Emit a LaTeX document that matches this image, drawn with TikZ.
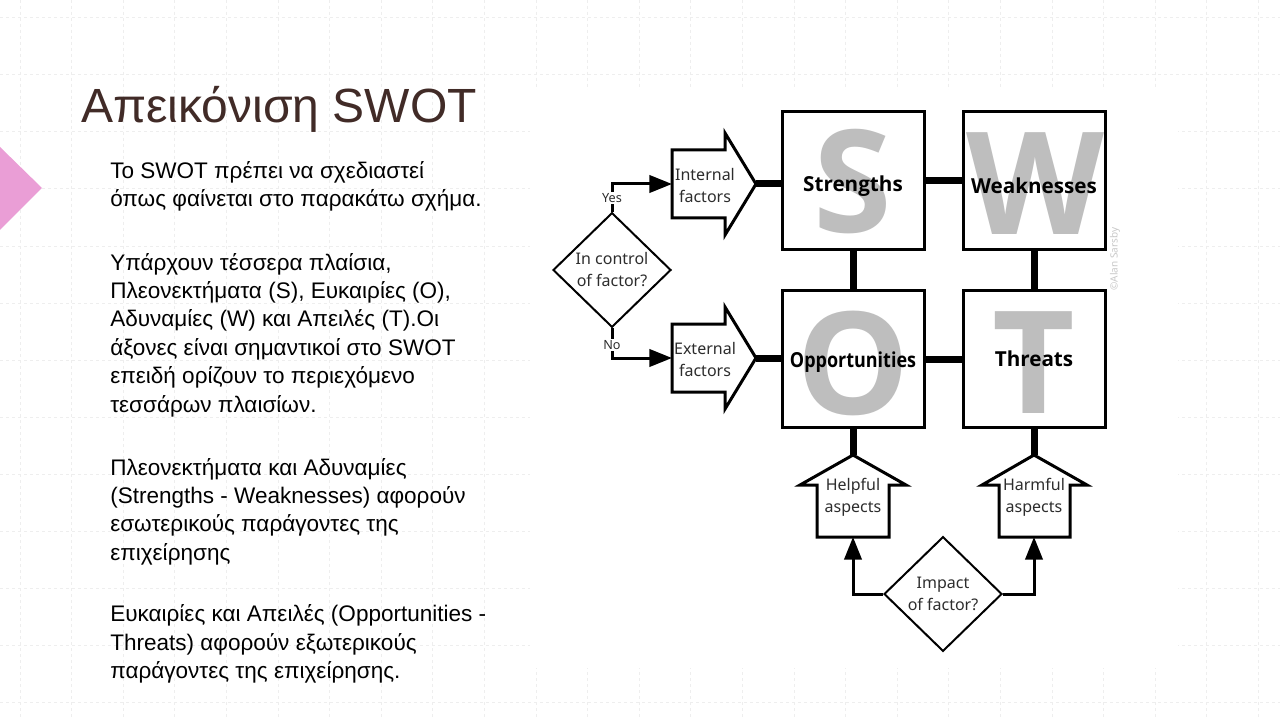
\documentclass[tikz,border=0pt]{standalone}
\usepackage{fontspec}
\setmainfont{Liberation Sans}
\newfontfamily\swotfont{Open Sans}
\newfontfamily\handfont{Noto Sans}
\usetikzlibrary{arrows.meta,shapes.geometric}
\definecolor{titlebrown}{HTML}{412B27}
\definecolor{pinkish}{RGB}{234,158,214}
\definecolor{gridgray}{RGB}{238,238,238}
\definecolor{lettergray}{RGB}{190,190,190}
\definecolor{handgray}{RGB}{45,45,45}
\definecolor{signgray}{RGB}{200,200,200}
\begin{document}
\begin{tikzpicture}[x=0.75pt,y=-0.75pt,
  gridline/.style={draw=gridgray, line width=0.75pt, dash pattern=on 2.25pt off 2.25pt},
  body/.style={anchor=base west, inner sep=0pt, font=\fontsize{16.9}{19}\selectfont},
  swbox/.style={draw, fill=white, line width=2.25pt, minimum width=106.5pt, minimum height=102.75pt, inner sep=0pt},
  bigletter/.style={text=lettergray, font=\swotfont\bfseries\fontsize{107}{107}\selectfont, inner sep=0pt},
  boxlabel/.style={font=\swotfont\bfseries\fontsize{15.5}{18}\selectfont, inner sep=0pt},
  thickline/.style={line width=5.25pt},
  fatarrow/.style={draw, fill=white, line width=2.25pt, line join=miter},
  hand/.style={font=\handfont\fontsize{12}{16.5}\selectfont, text=handgray, align=center, inner sep=0pt},
  decision/.style={diamond, draw, fill=white, line width=1.5pt, minimum width=88.5pt, minimum height=86pt, inner sep=0pt, font=\handfont\fontsize{12}{16.5}\selectfont, text=handgray, align=center},
  flow/.style={line width=2.25pt, -{Triangle[length=17pt,width=13pt]}},
  yesno/.style={font=\handfont\fontsize{9.5}{11}\selectfont, text=handgray, fill=white, inner sep=1pt}
]
\useasboundingbox (0,0) rectangle (1280,720);
\fill[white] (0,0) rectangle (1280,720);
% background grid
\foreach \i in {0,...,24} {\draw[gridline] ({20+51.6*\i},0) -- ({20+51.6*\i},720);}
\foreach \j in {0,...,12} {\draw[gridline] (0,{18+57*\j}) -- (1280,{18+57*\j});}
% image area
\fill[white] (530,90) rectangle (1178,668);
% pink marker
\fill[pinkish] (0,147) -- (42,188) -- (0,230) -- cycle;
% title
\node[anchor=base west, inner sep=0pt, text=titlebrown, font=\fontsize{36}{40}\selectfont] (title) at (81,123) {Απεικόνιση SWOT};
% body text
\node[body] (l1) at (110,178.3) {Το SWOT πρέπει να σχεδιαστεί};
\node[body] (l2) at (110,206.7) {όπως φαίνεται στο παρακάτω σχήμα.};
\node[body] (l3) at (110,270) {Υπάρχουν τέσσερα πλαίσια,};
\node[body] (l4) at (110,298.4) {Πλεονεκτήματα (S), Ευκαιρίες (O),};
\node[body] (l5) at (110,326.8) {Αδυναμίες (W) και Απειλές (T).Οι};
\node[body] (l6) at (110,355.2) {άξονες είναι σημαντικοί στο SWOT};
\node[body] (l7) at (110,383.6) {επειδή ορίζουν το περιεχόμενο};
\node[body] (l8) at (110,412) {τεσσάρων πλαισίων.};
\node[body] (l9) at (110,475) {Πλεονεκτήματα και Αδυναμίες};
\node[body] (l10) at (110,503.4) {(Strengths - Weaknesses) αφορούν};
\node[body] (l11) at (110,531.8) {εσωτερικούς παράγοντες της};
\node[body] (l12) at (110,560.2) {επιχείρησης};
\node[body] (l13) at (110,621.7) {Ευκαιρίες και Απειλές (Opportunities -};
\node[body] (l14) at (110,650.1) {Threats) αφορούν εξωτερικούς};
\node[body] (l15) at (110,678.5) {παράγοντες της επιχείρησης.};
% SWOT boxes
\node[swbox] (S) at (853,180.5) {};
\node[swbox] (W) at (1034,180.5) {};
\node[swbox] (O) at (853,359) {};
\node[swbox] (T) at (1034,359) {};
\node[bigletter] (Sbig) at (852.5,182) {S};
\node[bigletter] (Wbig) at (1035,184) {W};
\node[bigletter] (Obig) at (853.5,363) {O};
\node[bigletter] (Tbig) at (1034,363) {T};
\node[boxlabel] (Slab) at (853,186) {Strengths};
\node[boxlabel] (Wlab) at (1034,186) {Weaknesses};
\node[boxlabel] (Olab) at (853,362) {\scalebox{0.87}[1]{Opportunities}};
\node[boxlabel] (Tlab) at (1034,359) {Threats};
% thick links between boxes
\draw[thickline] (S.east) -- (W.west);
\draw[thickline] (O.east) -- (T.west);
\draw[thickline] (S.south) -- (O.north);
\draw[thickline] (W.south) -- (T.north);
% fat arrows
\draw[fatarrow] (672,150) -- (725,150) -- (725,133) -- (756,184) -- (725,235) -- (725,218) -- (672,218) -- cycle;
\coordinate (inTip) at (756,184);
\coordinate (inTail) at (672,184);
\node[hand] (inText) at (705,186) {Internal\\factors};
\draw[fatarrow] (672,324) -- (725,324) -- (725,307) -- (756,358) -- (725,409) -- (725,392) -- (672,392) -- cycle;
\coordinate (exTip) at (756,358);
\coordinate (exTail) at (672,358);
\node[hand] (exText) at (705,359) {External\\factors};
\draw[fatarrow] (817,537) -- (817,485) -- (800,485) -- (853,455) -- (906,485) -- (889,485) -- (889,537) -- cycle;
\coordinate (helpTip) at (853,455);
\coordinate (helpBase) at (853,537);
\node[hand] (helpText) at (853,497) {Helpful\\aspects};
\draw[fatarrow] (999,537) -- (999,485) -- (982,485) -- (1034,455) -- (1087,485) -- (1070,485) -- (1070,537) -- cycle;
\coordinate (harmTip) at (1034,455);
\coordinate (harmBase) at (1034,537);
\node[hand] (harmText) at (1034,497) {Harmful\\aspects};
% thick links arrows -> boxes
\draw[thickline] (inTip) -- (inTip -| S.west);
\draw[thickline] (exTip) -- (exTip -| O.west);
\draw[thickline] (O.south) -- (helpTip);
\draw[thickline] (T.south) -- (harmTip);
% decisions
\node[decision] (ctl) at (612,270) {In control\\of factor?};
\node[decision] (imp) at (943,594) {Impact\\of factor?};
\draw[flow] (ctl.north) |- (inTail);
\draw[flow] (ctl.south) |- (exTail);
\draw[flow] (imp.west) -| (helpBase);
\draw[flow] (imp.east) -| (harmBase);
\node[yesno] (yes) at (612,198) {Yes};
\node[yesno] (no) at (612,345) {No};
% credit
\node[rotate=90, text=signgray, font=\handfont\fontsize{7.5}{9}\selectfont, inner sep=0pt] (credit) at (1115,259) {©Alan Sarsby};
\end{tikzpicture}
\end{document}
